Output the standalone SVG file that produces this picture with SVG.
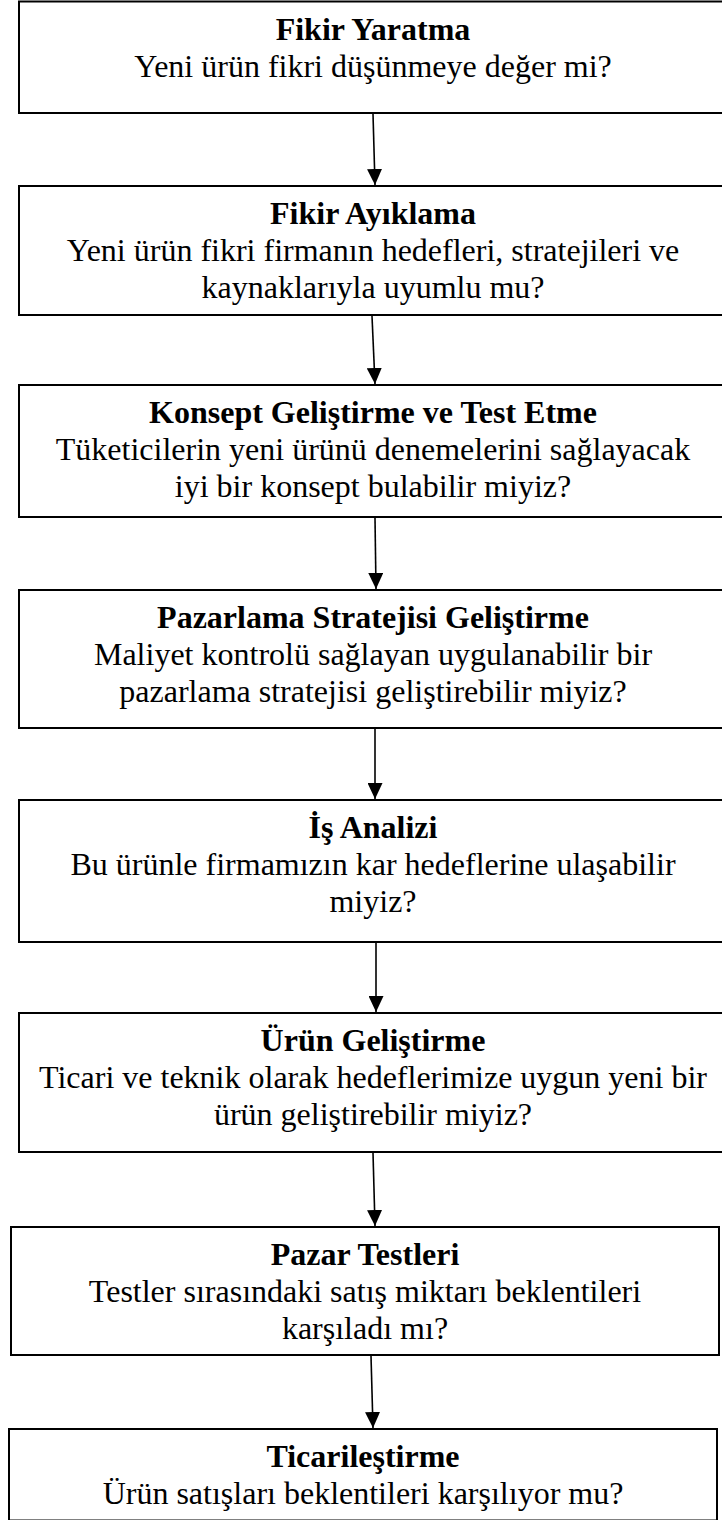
<svg xmlns="http://www.w3.org/2000/svg" width="722" height="1520" viewBox="0 0 722 1520">
  <style>
    .box { fill: #ffffff; stroke: #000000; stroke-width: 2; }
    .title { font-family: "Liberation Serif", "Times New Roman", serif; font-size: 32px; font-weight: bold; text-anchor: middle; fill: #000000; }
    .body { font-family: "Liberation Serif", "Times New Roman", serif; font-size: 32px; text-anchor: middle; fill: #000000; }
    .link { stroke: #000000; stroke-width: 1.6; fill: none; }
  </style>
  <defs>
    <marker id="arrow" viewBox="0 0 16 15" refX="16" refY="7.5" markerWidth="16" markerHeight="15" markerUnits="userSpaceOnUse" orient="auto">
      <path d="M0,0 L16,7.5 L0,15 z" fill="#000000"/>
    </marker>
  </defs>

  <rect width="722" height="1520" fill="#ffffff"/>

  <!-- connectors between the stages -->
  <g id="connectors">
    <path class="link" d="M373,114 L375,185" marker-end="url(#arrow)"/>
    <path class="link" d="M372,316 L375,384" marker-end="url(#arrow)"/>
    <path class="link" d="M375,518 L376,589" marker-end="url(#arrow)"/>
    <path class="link" d="M375,729 L375,799" marker-end="url(#arrow)"/>
    <path class="link" d="M376,943 L376,1012" marker-end="url(#arrow)"/>
    <path class="link" d="M373,1153 L375,1226" marker-end="url(#arrow)"/>
    <path class="link" d="M371,1356 L373,1428" marker-end="url(#arrow)"/>
  </g>

  <g id="fikir-yaratma">
    <rect class="box" x="19" y="1.5" width="708" height="111.5"/>
    <text class="title" x="373" y="39.5">Fikir Yaratma</text>
    <text class="body" x="373" y="76.5">Yeni ürün fikri düşünmeye değer mi?</text>
  </g>

  <g id="fikir-ayiklama">
    <rect class="box" x="19" y="186" width="708" height="129"/>
    <text class="title" x="373" y="224">Fikir Ayıklama</text>
    <text class="body" x="373" y="261">Yeni ürün fikri firmanın hedefleri, stratejileri ve</text>
    <text class="body" x="373" y="298">kaynaklarıyla uyumlu mu?</text>
  </g>

  <g id="konsept-gelistirme">
    <rect class="box" x="19" y="385" width="708" height="132"/>
    <text class="title" x="373" y="423">Konsept Geliştirme ve Test Etme</text>
    <text class="body" x="373" y="460">Tüketicilerin yeni ürünü denemelerini sağlayacak</text>
    <text class="body" x="373" y="497">iyi bir konsept bulabilir miyiz?</text>
  </g>

  <g id="pazarlama-stratejisi">
    <rect class="box" x="19" y="590" width="708" height="138"/>
    <text class="title" x="373" y="628">Pazarlama Stratejisi Geliştirme</text>
    <text class="body" x="373" y="665">Maliyet kontrolü sağlayan uygulanabilir bir</text>
    <text class="body" x="373" y="702">pazarlama stratejisi geliştirebilir miyiz?</text>
  </g>

  <g id="is-analizi">
    <rect class="box" x="19" y="800" width="708" height="142"/>
    <text class="title" x="373" y="838">İş Analizi</text>
    <text class="body" x="373" y="875">Bu ürünle firmamızın kar hedeflerine ulaşabilir</text>
    <text class="body" x="373" y="912">miyiz?</text>
  </g>

  <g id="urun-gelistirme">
    <rect class="box" x="19" y="1013" width="708" height="139"/>
    <text class="title" x="373" y="1051">Ürün Geliştirme</text>
    <text class="body" x="373" y="1088">Ticari ve teknik olarak hedeflerimize uygun yeni bir</text>
    <text class="body" x="373" y="1125">ürün geliştirebilir miyiz?</text>
  </g>

  <g id="pazar-testleri">
    <rect class="box" x="11" y="1227" width="708" height="128"/>
    <text class="title" x="365" y="1265">Pazar Testleri</text>
    <text class="body" x="365" y="1302">Testler sırasındaki satış miktarı beklentileri</text>
    <text class="body" x="365" y="1339">karşıladı mı?</text>
  </g>

  <g id="ticarilestirme">
    <rect class="box" x="9" y="1429" width="708" height="91.5"/>
    <text class="title" x="363" y="1467">Ticarileştirme</text>
    <text class="body" x="363" y="1504">Ürün satışları beklentileri karşılıyor mu?</text>
  </g>
</svg>
